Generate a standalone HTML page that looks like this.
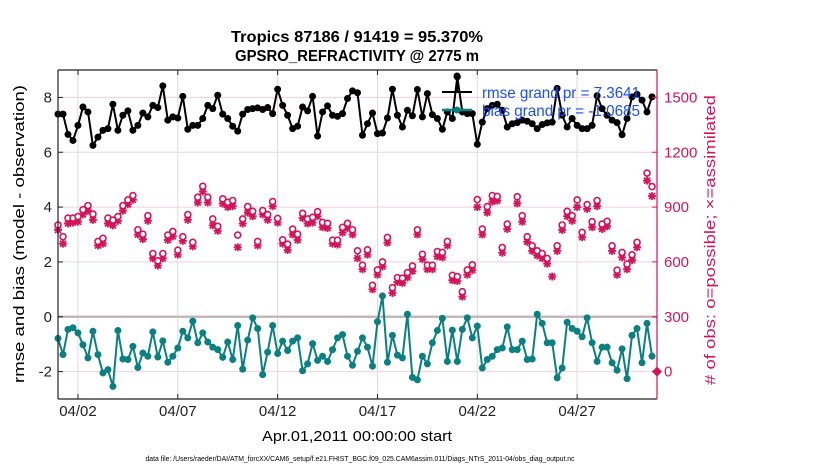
<!DOCTYPE html>
<html><head><meta charset="utf-8"><style>
body{margin:0;background:#fff;width:830px;height:470px;overflow:hidden;font-family:"Liberation Sans",sans-serif}
svg text{font-family:"Liberation Sans",sans-serif}
</style></head><body>
<svg id="chart" width="830" height="470" viewBox="0 0 830 470" xmlns="http://www.w3.org/2000/svg">
<rect width="830" height="470" fill="#fff"/>
<g id="grid"></g>
<g id="series"></g>
<g id="axes"></g>
<text x="357" y="42" text-anchor="middle" font-size="16" font-weight="bold" textLength="252" lengthAdjust="spacingAndGlyphs">Tropics 87186 / 91419 = 95.370%</text>
<text x="357" y="61" text-anchor="middle" font-size="16" font-weight="bold" textLength="244" lengthAdjust="spacingAndGlyphs">GPSRO_REFRACTIVITY @ 2775 m</text>
<text transform="translate(24,234) rotate(-90)" text-anchor="middle" font-size="15" textLength="298" lengthAdjust="spacingAndGlyphs">rmse and bias (model - observation)</text>
<text transform="translate(715,240) rotate(-90)" text-anchor="middle" font-size="15" fill="#d4145a" textLength="290" lengthAdjust="spacingAndGlyphs"># of obs: o=possible; ×=assimilated</text>
<text x="357" y="441" text-anchor="middle" font-size="15" textLength="190" lengthAdjust="spacingAndGlyphs">Apr.01,2011 00:00:00 start</text>
<text x="360" y="461" text-anchor="middle" font-size="7" textLength="429" lengthAdjust="spacingAndGlyphs">data file: /Users/raeder/DAI/ATM_forcXX/CAM6_setup/f.e21.FHIST_BGC.f09_025.CAM6assim.011/Diags_NTrS_2011-04/obs_diag_output.nc</text>
<g>
<line x1="442" y1="92" x2="472" y2="92" stroke="#000" stroke-width="2"/>
<line x1="457" y1="76" x2="457" y2="92" stroke="#000" stroke-width="2"/>
<circle cx="457" cy="76" r="3.5" fill="#000"/>
<text x="482" y="98" font-size="16" fill="#1a4fff" textLength="158" lengthAdjust="spacingAndGlyphs">rmse grand pr = 7.3641</text>
<line x1="442" y1="110" x2="472" y2="110" stroke="#0a8080" stroke-width="2.5"/>
<circle cx="457" cy="110" r="3.5" fill="#0a8080"/>
<text x="482" y="116" font-size="16" fill="#1a4fff" textLength="158" lengthAdjust="spacingAndGlyphs">bias grand pr = -1.0685</text>
</g>
</svg>
<script>
const rmse=[7.39,7.39,6.65,6.43,6.98,7.65,7.47,6.25,6.55,6.8,6.86,7.75,6.8,7.35,7.51,6.8,6.98,7.43,7.29,7.71,7.63,8.42,7.17,7.29,7.25,8.04,6.84,6.98,6.98,7.23,
7.71,7.59,8.08,7.39,7.23,6.95,6.77,7.39,7.56,7.59,7.62,7.56,7.63,7.41,8.3,7.71,7.35,6.86,6.95,7.65,7.51,8.04,6.59,7.47,7.69,7.35,7.31,7.41,7.96,8.24,8.17,6.62,
7.04,7.43,6.68,6.7,7.25,8.3,7.35,6.92,7.53,7.33,8.29,7.29,8.14,7.37,7.23,6.84,7.47,7.23,8.75,7.47,7.41,7.41,6.29,7.1,7.59,7.71,7.75,7.53,6.92,7.04,
7.08,7.17,7.13,7.04,6.86,7.01,7.07,7.1,8.33,7.35,6.92,7.23,6.98,6.86,6.86,6.98,8.06,7.59,7.35,7.17,7.08,6.64,7.23,8.02,8.11,7.9,7.47,8.02];
const bias=[-0.79,-1.38,-0.46,-0.4,-0.59,-1.02,-1.5,-0.53,-1.38,-2.05,-1.93,-2.54,-0.5,-1.54,-1.56,-1.08,-1.85,-1.32,-1.44,-0.55,-1.47,-0.88,-1.66,-1.44,-1.14,-0.53,-0.77,-0.16,-0.95,-0.59,
-0.92,-1.11,-1.2,-1.48,-0.92,-1.56,-0.32,-1.91,-0.85,-0.04,-0.43,-2.11,-1.29,-0.32,-1.34,-0.89,-1.23,-0.89,-0.77,-1.97,-1.72,-0.98,-1.59,-1.44,-1.63,-1.2,-0.77,-0.65,-1.44,-1.77,-1.26,
-0.77,-1.11,-1.8,-0.18,0.76,-1.66,-0.68,-1.4,-1.5,0.09,-2.21,-2.3,-1.44,-1.72,-0.95,-0.5,-0.06,-1.63,-0.49,-1.63,-0.46,-0.04,-0.77,-0.34,-1.87,-1.56,-1.44,-1.2,-1.14,-0.37,-1.2,
-1.2,-0.89,-1.56,-1.54,0.09,-0.24,-0.95,-0.95,-2.23,-1.87,-0.2,-0.43,-0.53,-0.73,-0.04,-0.95,-1.63,-1.11,-1.11,-1.68,-1.95,-1.17,-2.26,-0.68,-0.43,-1.68,-0.24,-1.44];
const possible=[802,738,840,840,848,886,908,862,712,729,840,829,848,908,939,963,776,752,853,646,606,646,747,767,664,738,859,707,954,1014,
954,835,795,945,926,936,747,835,903,877,712,881,859,930,838,721,697,780,752,866,835,844,875,816,811,719,719,789,811,776,661,
582,666,472,556,600,734,459,514,511,542,578,776,642,582,582,657,652,712,527,520,437,556,584,941,780,903,963,958,679,807,
null,957,853,738,688,661,646,619,null,688,802,877,853,939,762,914,820,936,807,822,688,555,652,588,639,707,null,1086,1012];
const assimilated=[775,700,810,815,820,860,880,830,690,700,810,800,825,880,915,940,750,725,825,620,580,620,720,740,640,715,830,685,925,985,
925,800,770,920,900,905,680,810,870,850,690,860,830,905,815,700,665,750,720,840,810,815,850,790,785,700,695,760,785,750,620,
560,640,450,530,575,705,430,490,485,515,550,750,615,560,560,630,625,690,500,495,410,530,555,900,750,870,930,935,650,780,
null,920,820,710,660,635,620,590,520,660,775,850,825,900,735,890,790,905,780,795,660,530,625,560,610,680,null,1045,960];
const leftTicks=[-2,0,2,4,6,8];
const rightTicks=[0,300,600,900,1200,1500];
const xTickDays=[1,6,11,16,21,26];
const xTickLabels=["04/02","04/07","04/12","04/17","04/22","04/27"];
const stepDays=0.25;

const X0=58,X1=657,Y0=70,Y1=399,D0=0,D1=30,V0=-3,V1=9;
const xs=d=>X0+(d-D0)/(D1-D0)*(X1-X0);
const ys=v=>Y1-(v-V0)/(V1-V0)*(Y1-Y0);
const yr=c=>ys(c/150-2);
const NS="http://www.w3.org/2000/svg";
function mk(tag,parent,attrs){const e=document.createElementNS(NS,tag);for(const k in attrs)e.setAttribute(k,attrs[k]);parent.appendChild(e);return e;}
const grid=document.getElementById('grid'),ser=document.getElementById('series'),ax=document.getElementById('axes');
const MAG="#d4145a",TEAL="#0a8080";

leftTicks.forEach(v=>{if(v!==0){const l=mk('line',grid,{x1:X0,x2:X1,y1:ys(v),y2:ys(v),stroke:"#f4cfdc","stroke-width":1});

}});
xTickDays.forEach(d=>{const l=mk('line',grid,{x1:xs(d),x2:xs(d),y1:Y0,y2:Y1,stroke:"#dcdcdc","stroke-width":1});

});
const zl=mk('line',grid,{x1:X0,x2:X1,y1:ys(0),y2:ys(0),stroke:"#c4b8bc","stroke-width":2.5});



function lineSeries(arr,color,name){
  let d="";arr.forEach((v,i)=>{if(v==null)return;d+=(d?"L":"M")+xs(i*stepDays).toFixed(1)+","+ys(v).toFixed(1);});
  const p=mk('path',ser,{d:d,fill:"none",stroke:color,"stroke-width":2});
  
  
  arr.forEach((v,i)=>{if(v==null)return;const c=mk('circle',ser,{cx:xs(i*stepDays),cy:ys(v),r:3.5,fill:color});
  
  });
}
assimilated.forEach((c,i)=>{if(c==null)return;const x=xs(i*stepDays),y=yr(c);
  const g=mk('g',ser,{stroke:MAG,"stroke-width":1.8});
  
  
  mk('line',g,{x1:x-4,x2:x+4,y1:y,y2:y});mk('line',g,{x1:x,x2:x,y1:y-4,y2:y+4});
  mk('line',g,{x1:x-3,x2:x+3,y1:y-3,y2:y+3});mk('line',g,{x1:x-3,x2:x+3,y1:y+3,y2:y-3});});
possible.forEach((c,i)=>{if(c==null)return;const e=mk('circle',ser,{cx:xs(i*stepDays),cy:yr(c),r:3,fill:"#fff",stroke:MAG,"stroke-width":1.6});
  
  });
lineSeries(rmse,"#000","rmse");
lineSeries(bias,TEAL,"bias");

mk('line',ax,{x1:X0,x2:X1,y1:Y0,y2:Y0,stroke:"#222","stroke-width":1.2});
mk('line',ax,{x1:X0,x2:X1,y1:Y1,y2:Y1,stroke:"#222","stroke-width":1.2});
mk('line',ax,{x1:X0,x2:X0,y1:Y0,y2:Y1,stroke:"#222","stroke-width":1.2});
mk('line',ax,{x1:X1,x2:X1,y1:Y0,y2:Y1,stroke:MAG,"stroke-width":1.2});
leftTicks.forEach(v=>{mk('line',ax,{x1:X0,x2:X0+5,y1:ys(v),y2:ys(v),stroke:"#222"});
  const t=mk('text',ax,{x:X0-6,y:ys(v)+5,"text-anchor":"end","font-size":15,fill:"#222"});t.textContent=v;
  
  });
rightTicks.forEach(c=>{mk('line',ax,{x1:X1-5,x2:X1,y1:yr(c),y2:yr(c),stroke:MAG});
  const t=mk('text',ax,{x:X1+7,y:yr(c)+5,"font-size":15,fill:MAG});t.textContent=c;
  
  });
xTickDays.forEach((d,k)=>{mk('line',ax,{x1:xs(d),x2:xs(d),y1:Y1,y2:Y1-5,stroke:"#222"});mk('line',ax,{x1:xs(d),x2:xs(d),y1:Y0,y2:Y0+5,stroke:"#222"});
  const t=mk('text',ax,{x:xs(d),y:Y1+17,"text-anchor":"middle","font-size":15,fill:"#222"});t.textContent=xTickLabels[k];
  
  });
const dm=mk('path',ax,{d:`M${X1-5},${yr(0)}L${X1},${yr(0)-5}L${X1+5},${yr(0)}L${X1},${yr(0)+5}Z`,fill:MAG});


</script>
</body></html>
